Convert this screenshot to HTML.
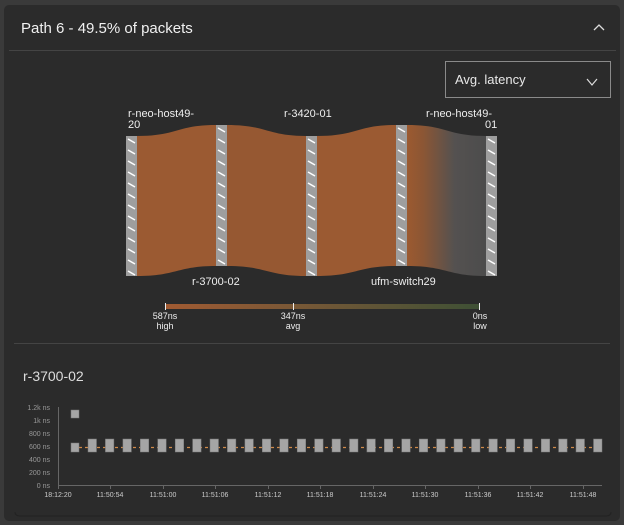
<!DOCTYPE html>
<html><head><meta charset="utf-8"><style>
html,body{margin:0;padding:0;background:#3a3a3a;width:624px;height:525px;overflow:hidden;font-family:"Liberation Sans",sans-serif}
</style></head><body>
<svg width="624" height="525" xmlns="http://www.w3.org/2000/svg" style="position:absolute;left:0;top:0">
<defs>
<pattern id="h1" x="126" y="136" width="11" height="11" patternUnits="userSpaceOnUse"><rect width="11" height="11" fill="#9e9e9e"/><line x1="2" y1="3" x2="9" y2="7" stroke="#fff" stroke-width="1.5"/></pattern>
<pattern id="h2" x="216" y="125" width="11" height="11" patternUnits="userSpaceOnUse"><rect width="11" height="11" fill="#9e9e9e"/><line x1="2" y1="3" x2="9" y2="7" stroke="#fff" stroke-width="1.5"/></pattern>
<pattern id="h3" x="306" y="136" width="11" height="11" patternUnits="userSpaceOnUse"><rect width="11" height="11" fill="#9e9e9e"/><line x1="2" y1="3" x2="9" y2="7" stroke="#fff" stroke-width="1.5"/></pattern>
<pattern id="h4" x="396" y="125" width="11" height="11" patternUnits="userSpaceOnUse"><rect width="11" height="11" fill="#9e9e9e"/><line x1="2" y1="3" x2="9" y2="7" stroke="#fff" stroke-width="1.5"/></pattern>
<pattern id="h5" x="486" y="136" width="11" height="11" patternUnits="userSpaceOnUse"><rect width="11" height="11" fill="#9e9e9e"/><line x1="2" y1="3" x2="9" y2="7" stroke="#fff" stroke-width="1.5"/></pattern>
<linearGradient id="g5" x1="407" x2="486" y1="0" y2="0" gradientUnits="userSpaceOnUse">
<stop offset="0" stop-color="#9c5a30"/><stop offset="0.2" stop-color="#8c5634"/><stop offset="0.6" stop-color="#545150"/><stop offset="1" stop-color="#4c4c4c"/>
</linearGradient>
<linearGradient id="lg" x1="0" x2="1"><stop offset="0" stop-color="#a15a32"/><stop offset="0.4" stop-color="#7a5836"/><stop offset="1" stop-color="#3e5035"/></linearGradient>
</defs>
<rect x="4" y="5" width="616" height="516" rx="5" fill="#2b2b2b"/>
<text x="21" y="33" font-size="15" fill="#f0f0f0">Path 6 - 49.5% of packets</text>
<polyline points="594,30 599,25 604,30" fill="none" stroke="#ddd" stroke-width="1.3"/>
<line x1="9" y1="50.5" x2="616" y2="50.5" stroke="#444" stroke-width="1"/>
<rect x="445.5" y="61.5" width="165" height="36" fill="none" stroke="#8a8a8a"/>
<text x="455" y="84" font-size="13" fill="#e8e8e8">Avg. latency</text>
<polyline points="587,79 592,85 597,79" fill="none" stroke="#ddd" stroke-width="1.2"/>
<path d="M137,136 C177,136 177,125 216,125 L216,266 C177,266 177,276 137,276Z" fill="#9b5a32"/>
<path d="M227,125 C267,125 267,136 306,136 L306,276 C267,276 267,266 227,266Z" fill="#965832"/>
<path d="M317,136 C357,136 357,125 396,125 L396,266 C357,266 357,276 317,276Z" fill="#9b5a32"/>
<path d="M407,125 C447,125 447,136 486,136 L486,276 C447,276 447,266 407,266Z" fill="url(#g5)"/>
<rect x="126" y="136" width="11" height="140" fill="url(#h1)"/>
<rect x="216" y="125" width="11" height="141" fill="url(#h2)"/>
<rect x="306" y="136" width="11" height="140" fill="url(#h3)"/>
<rect x="396" y="125" width="11" height="141" fill="url(#h4)"/>
<rect x="486" y="136" width="11" height="140" fill="url(#h5)"/>
<g font-size="11" fill="#eee">
<text x="128" y="117">r-neo-host49-</text><text x="128" y="128">20</text>
<text x="284" y="117">r-3420-01</text>
<text x="426" y="117">r-neo-host49-</text><text x="485" y="128">01</text>
<text x="192" y="285">r-3700-02</text>
<text x="371" y="285">ufm-switch29</text>
</g>
<rect x="165" y="304" width="315" height="5" fill="url(#lg)"/>
<g stroke="#eee" stroke-width="1"><line x1="165.5" y1="303" x2="165.5" y2="310"/><line x1="293.5" y1="303" x2="293.5" y2="310"/><line x1="479.5" y1="303" x2="479.5" y2="310"/></g>
<g font-size="9" fill="#eee" text-anchor="middle">
<text x="165" y="319">587ns</text><text x="165" y="329">high</text>
<text x="293" y="319">347ns</text><text x="293" y="329">avg</text>
<text x="480" y="319">0ns</text><text x="480" y="329">low</text>
</g>
<line x1="14" y1="343.5" x2="610" y2="343.5" stroke="#444"/>
<text x="23" y="381" font-size="14" fill="#ddd">r-3700-02</text>
<g font-size="7" fill="#999" text-anchor="end">
<text x="50" y="410">1.2k ns</text><text x="50" y="423">1k ns</text><text x="50" y="436">800 ns</text><text x="50" y="449">600 ns</text><text x="50" y="462">400 ns</text><text x="50" y="475">200 ns</text><text x="50" y="488">0 ns</text>
</g>
<line x1="58.5" y1="407" x2="58.5" y2="486" stroke="#666"/>
<line x1="58" y1="485.5" x2="602" y2="485.5" stroke="#666"/>
<g stroke="#666">
<line x1="58.5" y1="485" x2="58.5" y2="489"/><line x1="110.5" y1="485" x2="110.5" y2="489"/><line x1="163.5" y1="485" x2="163.5" y2="489"/><line x1="215.5" y1="485" x2="215.5" y2="489"/><line x1="268.5" y1="485" x2="268.5" y2="489"/><line x1="320.5" y1="485" x2="320.5" y2="489"/><line x1="373.5" y1="485" x2="373.5" y2="489"/><line x1="425.5" y1="485" x2="425.5" y2="489"/><line x1="478.5" y1="485" x2="478.5" y2="489"/><line x1="530.5" y1="485" x2="530.5" y2="489"/><line x1="583.5" y1="485" x2="583.5" y2="489"/>
</g>
<g font-size="7" fill="#ccc" text-anchor="middle">
<text x="58" y="497">18:12:20</text><text x="110" y="497">11:50:54</text><text x="163" y="497">11:51:00</text><text x="215" y="497">11:51:06</text><text x="268" y="497">11:51:12</text><text x="320" y="497">11:51:18</text><text x="373" y="497">11:51:24</text><text x="425" y="497">11:51:30</text><text x="478" y="497">11:51:36</text><text x="530" y="497">11:51:42</text><text x="583" y="497">11:51:48</text>
</g>
<line x1="79" y1="447.5" x2="602" y2="447.5" stroke="#d08a4a" stroke-width="1.3" stroke-dasharray="3,3"/>
<g fill="#a5a5a5" stroke="#777" stroke-width="0.5">
<rect x="71" y="410" width="8" height="8"/>
<rect x="71" y="443" width="8" height="9"/>
<rect x="88" y="439" width="8.5" height="13"/><rect x="105.4" y="439" width="8.5" height="13"/><rect x="122.9" y="439" width="8.5" height="13"/><rect x="140.3" y="439" width="8.5" height="13"/><rect x="157.7" y="439" width="8.5" height="13"/><rect x="175.2" y="439" width="8.5" height="13"/><rect x="192.6" y="439" width="8.5" height="13"/><rect x="210" y="439" width="8.5" height="13"/><rect x="227.4" y="439" width="8.5" height="13"/><rect x="244.9" y="439" width="8.5" height="13"/><rect x="262.3" y="439" width="8.5" height="13"/><rect x="279.7" y="439" width="8.5" height="13"/><rect x="297.2" y="439" width="8.5" height="13"/><rect x="314.6" y="439" width="8.5" height="13"/><rect x="332" y="439" width="8.5" height="13"/><rect x="349.5" y="439" width="8.5" height="13"/><rect x="366.9" y="439" width="8.5" height="13"/><rect x="384.3" y="439" width="8.5" height="13"/><rect x="401.7" y="439" width="8.5" height="13"/><rect x="419.2" y="439" width="8.5" height="13"/><rect x="436.6" y="439" width="8.5" height="13"/><rect x="454" y="439" width="8.5" height="13"/><rect x="471.5" y="439" width="8.5" height="13"/><rect x="488.9" y="439" width="8.5" height="13"/><rect x="506.3" y="439" width="8.5" height="13"/><rect x="523.8" y="439" width="8.5" height="13"/><rect x="541.2" y="439" width="8.5" height="13"/><rect x="558.6" y="439" width="8.5" height="13"/><rect x="576" y="439" width="8.5" height="13"/><rect x="593.5" y="439" width="8.5" height="13"/>
</g>
<path d="M15,512 Q15,516 20,516 L606,516 Q611,516 611,512" fill="none" stroke="#222" stroke-width="1"/>
</svg>
</body></html>
